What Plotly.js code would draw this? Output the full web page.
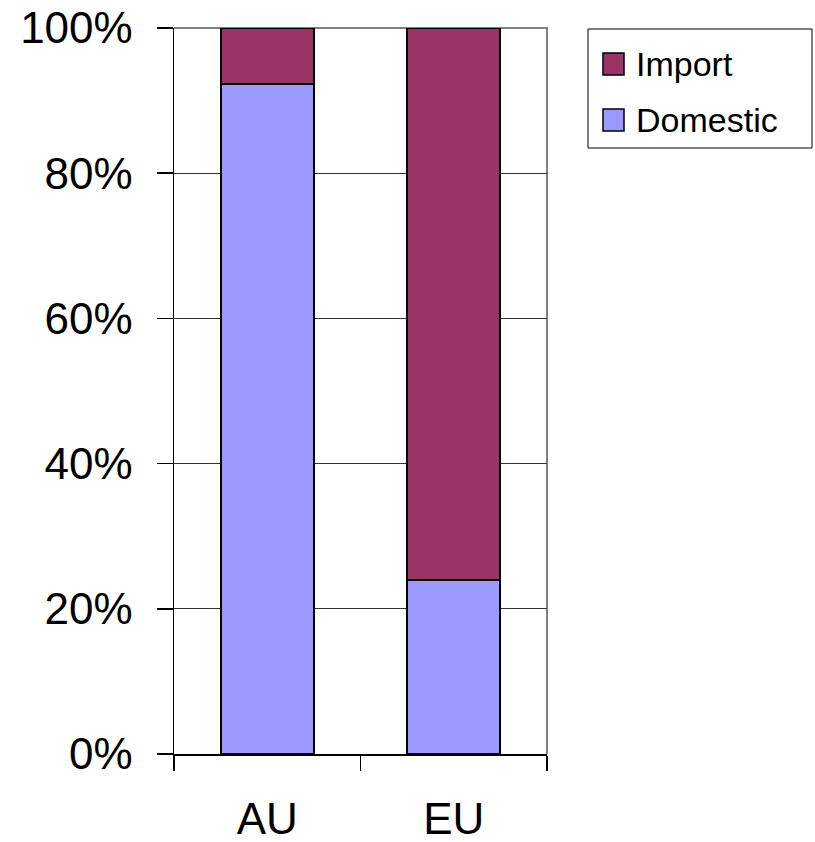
<!DOCTYPE html>
<html>
<head>
<meta charset="utf-8">
<script src="https://cdn.plot.ly/plotly-3.0.1.min.js"></script>
<style>
  html, body { margin: 0; padding: 0; background: #fff; }
  #chart { width: 815px; height: 842px; }
</style>
</head>
<body>
<div id="chart"></div>
<script>
// Share of supply by origin, stacked to 100%
const regions = ['AU', 'EU'];
const seriesNames = ['Domestic', 'Import'];
const domestic = [0.923, 0.239];
const imported = [0.077, 0.761];
const seriesColors = ['#9999FF', '#993366'];

const W = 815, H = 842;
const M = { l: 174, r: 268, t: 28, b: 88 };
const plotW = W - M.l - M.r, plotH = H - M.t - M.b;
const px = x => (x - M.l) / plotW;          // pixel -> paper x
const py = y => (H - M.b - y) / plotH;      // pixel -> paper y

const font = "Arial, 'Liberation Sans', sans-serif";

const traces = [
  { type: 'bar', name: seriesNames[0], x: regions, y: domestic,
    marker: { color: seriesColors[0], line: { color: '#000', width: 2 } },
    showlegend: false, hoverinfo: 'x+y' },
  { type: 'bar', name: seriesNames[1], x: regions, y: imported,
    marker: { color: seriesColors[1], line: { color: '#000', width: 2 } },
    showlegend: false, hoverinfo: 'x+y' }
];

// Legend box drawn by hand so swatches match the text size
const legend = { left: 588, top: 29, right: 812, bottom: 148 };
const legendRows = [
  { name: seriesNames[1], color: seriesColors[1], cy: 64 },
  { name: seriesNames[0], color: seriesColors[0], cy: 120 }
];

const shapes = [
  // plot area frame (top and right edges)
  { type: 'path', xref: 'paper', yref: 'paper', layer: 'between',
    path: `M 0 1 L 1 1 L 1 0`, line: { color: '#808080', width: 2 } },
  { type: 'rect', xref: 'paper', yref: 'paper',
    x0: px(legend.left), x1: px(legend.right), y0: py(legend.bottom), y1: py(legend.top),
    line: { color: '#000', width: 1 }, fillcolor: '#fff' }
];
const annotations = [];
legendRows.forEach(r => {
  shapes.push({ type: 'rect', xref: 'paper', yref: 'paper',
    x0: px(603), x1: px(624), y0: py(r.cy + 11), y1: py(r.cy - 11),
    line: { color: '#000', width: 1.5 }, fillcolor: r.color });
  annotations.push({ xref: 'paper', yref: 'paper', x: px(634), y: py(r.cy),
    xanchor: 'left', yanchor: 'middle', showarrow: false, text: r.name,
    font: { family: font, size: 34, color: '#000' } });
});

const layout = {
  width: W, height: H,
  margin: M,
  paper_bgcolor: '#fff', plot_bgcolor: '#fff',
  barmode: 'stack', bargap: 0.5,
  font: { family: font, color: '#000' },
  showlegend: false,
  xaxis: {
    type: 'category', tickson: 'boundaries',
    showline: true, linecolor: '#000', linewidth: 1.5,
    ticks: 'outside', ticklen: 15, tickcolor: '#000', tickwidth: 1.5,
    tickfont: { family: font, size: 44, color: '#000' },
    ticklabelstandoff: 26,
    showgrid: false, zeroline: false
  },
  yaxis: {
    range: [0, 1], dtick: 0.2, tickformat: '.0%',
    showline: true, linecolor: '#000', linewidth: 1.5,
    ticks: 'outside', ticklen: 16, tickcolor: '#000', tickwidth: 1.5,
    tickfont: { family: font, size: 44, color: '#000' },
    ticklabelstandoff: 15,
    showgrid: true, gridcolor: '#333', gridwidth: 1,
    zeroline: false
  },
  shapes: shapes,
  annotations: annotations
};

Plotly.newPlot('chart', traces, layout, { displayModeBar: false, staticPlot: true });
</script>
</body>
</html>
